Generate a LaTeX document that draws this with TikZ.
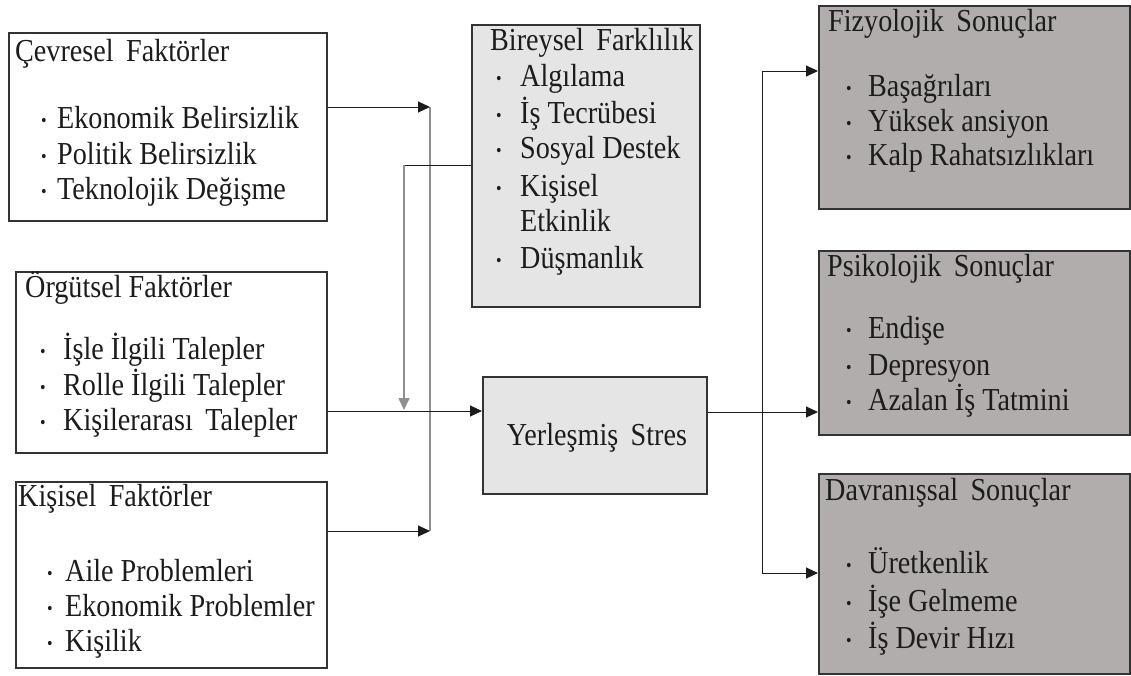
\documentclass[tikz,border=0pt]{standalone}
\usepackage{fontspec}
\setmainfont{Liberation Serif}[FakeStretch=0.88]
\usetikzlibrary{arrows.meta}
\definecolor{boxline}{HTML}{333333}
\definecolor{textc}{HTML}{1C1C1C}
\definecolor{lightfill}{HTML}{E5E5E5}
\definecolor{darkfill}{HTML}{B1ADAC}
\definecolor{grayconn}{HTML}{8F8F8F}
\newcommand\bitem[5]{%
  \node[bulnode] (#1b) at (#2,#4) {•};
  \node[txt] (#1) at (#3,#4) {#5};}
\begin{document}
\begin{tikzpicture}[x=1pt,y=-1pt,
  box/.style={draw=boxline, line width=1.6pt, anchor=north west, inner sep=0pt},
  whitebox/.style={box, fill=white},
  lightbox/.style={box, fill=lightfill},
  darkbox/.style={box, fill=darkfill},
  txt/.style={anchor=base west, inner sep=0pt, text=textc, font=\fontsize{32}{38}\selectfont},
  ctxt/.style={anchor=base, inner sep=0pt, text=textc, font=\fontsize{32}{38}\selectfont},
  bulnode/.style={anchor=base, inner sep=0pt, yshift=2pt, text=textc, font=\fontsize{18}{18}\selectfont},
  thinline/.style={draw=textc, line width=1pt},
  grayline/.style={draw=grayconn, line width=1.6pt},
  arr/.style={-{Triangle[length=12pt,width=11pt]}}]
\useasboundingbox (0,0) rectangle (1131,675);

% boxes
\node[whitebox, minimum width=318pt, minimum height=188pt] (cev) at (8,32) {};
\node[whitebox, minimum width=311pt, minimum height=181pt] (org) at (15,271) {};
\node[whitebox, minimum width=311pt, minimum height=186pt] (kis) at (15,481) {};
\node[lightbox, minimum width=228pt, minimum height=282pt] (bir) at (471,24) {};
\node[lightbox, minimum width=224pt, minimum height=117pt] (yer) at (482,376) {};
\node[darkbox, minimum width=311pt, minimum height=203pt] (fiz) at (818,5) {};
\node[darkbox, minimum width=311pt, minimum height=184pt] (psi) at (818,250) {};
\node[darkbox, minimum width=311pt, minimum height=200pt] (dav) at (818,473) {};

% Çevresel
\node[txt] (cevt) at (15,61) {Çevresel\, Faktörler};
\bitem{cev1}{44}{57}{128}{Ekonomik Belirsizlik}
\bitem{cev2}{44}{57}{164}{Politik Belirsizlik}
\bitem{cev3}{44}{57}{199}{Teknolojik Değişme}

% Örgütsel
\node[txt] (orgt) at (25,297) {Örgütsel Faktörler};
\bitem{org1}{43}{63}{359}{İşle İlgili Talepler}
\bitem{org2}{43}{63}{395}{Rolle İlgili Talepler}
\bitem{org3}{43}{63}{430}{Kişilerarası\, Talepler}

% Kişisel
\node[txt] (kist) at (18,506) {Kişisel\, Faktörler};
\bitem{kis1}{50}{65}{581}{Aile Problemleri}
\bitem{kis2}{50}{65}{616}{Ekonomik Problemler}
\bitem{kis3}{50}{65}{651}{Kişilik}

% Bireysel
\node[txt] (birt) at (490,50) {Bireysel\, Farklılık};
\bitem{bir1}{499}{520}{86}{Algılama}
\bitem{bir2}{499}{520}{123}{İş Tecrübesi}
\bitem{bir3}{499}{520}{158}{Sosyal Destek}
\bitem{bir4}{499}{520}{196}{Kişisel}
\node[txt] (bir4b) at (520,231) {Etkinlik};
\bitem{bir5}{499}{520}{268}{Düşmanlık}

% Yerleşmiş
\node[ctxt] (yert) at (597,445) {Yerleşmiş\, Stres};

% Fizyolojik
\node[txt] (fizt) at (828,31) {Fizyolojik\, Sonuçlar};
\bitem{fiz1}{849}{868}{96}{Başağrıları}
\bitem{fiz2}{849}{868}{131}{Yüksek ansiyon}
\bitem{fiz3}{849}{868}{165}{Kalp Rahatsızlıkları}

% Psikolojik
\node[txt] (psit) at (827,276) {Psikolojik\, Sonuçlar};
\bitem{psi1}{849}{868}{338}{Endişe}
\bitem{psi2}{849}{868}{375}{Depresyon}
\bitem{psi3}{849}{868}{410}{Azalan İş Tatmini}

% Davranışsal
\node[txt] (davt) at (825,500) {Davranışsal\, Sonuçlar};
\bitem{dav1}{849}{868}{573}{Üretkenlik}
\bitem{dav2}{849}{868}{611}{İşe Gelmeme}
\bitem{dav3}{849}{868}{648}{İş Devir Hızı}

% junction coordinates
\coordinate (j1) at (430,107);
\coordinate (j2) at (430,531);
\coordinate (b1) at (404,165);
\coordinate (b2) at (404,410);
\coordinate (m1) at (0,411);
\coordinate (r1) at (0,412);
\coordinate (v1) at (762,71);
\coordinate (v2) at (762,573);

% connectors
\draw[grayline] (j1) -- (j2);
\draw[thinline, arr] (cev.east |- j1) -- (j1);
\draw[thinline, arr] (kis.east |- j2) -- (j2);
\draw[thinline] (bir.west |- b1) -- (b1);
\draw[grayline, arr] (b1) -- (b2);
\draw[thinline, arr] (org.east |- m1) -- (yer.west |- m1);
\draw[thinline, arr] (yer.east |- r1) -- (psi.west |- r1);
\draw[thinline] (v1) -- (v2);
\draw[thinline, arr] (v1) -- (fiz.west |- v1);
\draw[thinline, arr] (v2) -- (dav.west |- v2);
\end{tikzpicture}
\end{document}
